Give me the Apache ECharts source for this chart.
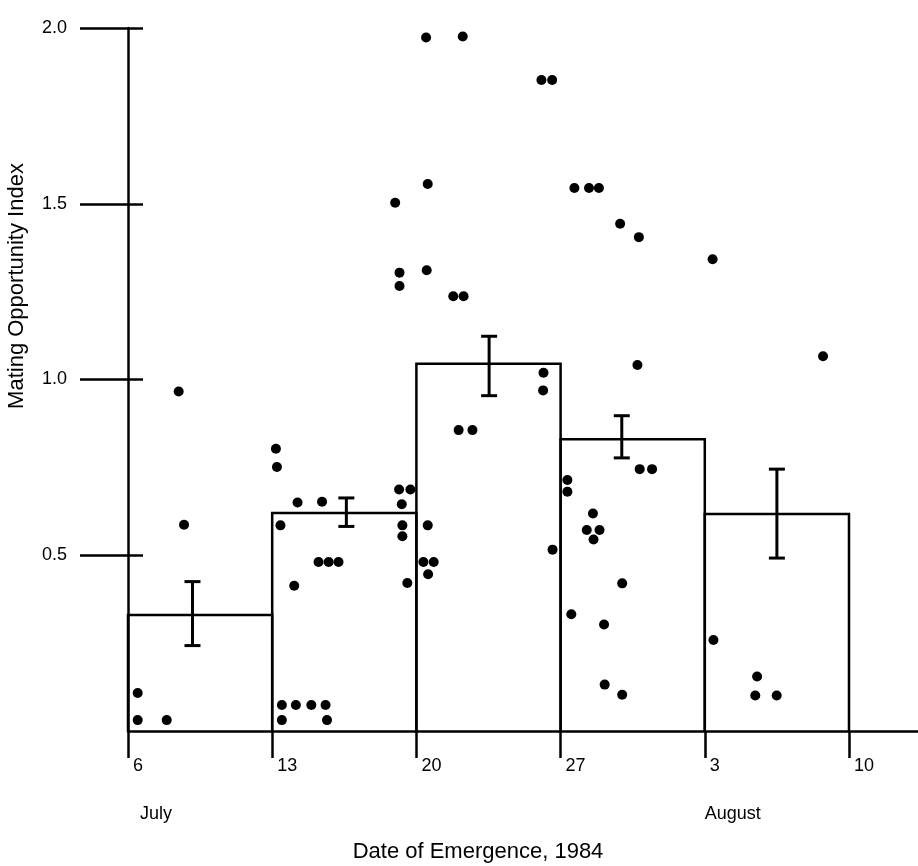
<!DOCTYPE html>
<html>
<head>
<meta charset="utf-8">
<script src="https://cdn.jsdelivr.net/npm/echarts@6/dist/echarts.min.js"></script>
<style>
html,body{margin:0;padding:0;background:#fff;}
#chart{width:918px;height:866px;}
</style>
</head>
<body>
<div id="chart"></div>
<script>
// x values are days after July 6, 1984
const xTickDays = [0, 7, 14, 21, 28, 35];
const xTickLabels = ['6', '13', '20', '27', '3', '10'];
const monthDays = [0, 28];
const monthLabels = ['July', 'August'];
const yTicks = [0.5, 1.0, 1.5, 2.0];

const binStart = [0, 7, 14, 21, 28];
const binEnd = [7, 14, 21, 28, 35];
const binMean = [0.330, 0.620, 1.045, 0.830, 0.617];
const errDay = [3.13, 10.60, 17.53, 23.97, 31.50];
const errLow = [0.243, 0.582, 0.954, 0.777, 0.492];
const errHigh = [0.425, 0.663, 1.123, 0.897, 0.745];

const pointDay = [
  0.47, 0.47, 1.88, 2.46, 2.72,
  7.18, 7.23, 7.40, 8.23, 9.42, 8.07, 9.25, 9.74, 10.22, 7.47, 8.15, 8.90, 9.59, 7.47, 9.66,
  13.16, 13.71, 13.29, 13.32, 13.32, 13.56, 12.97, 13.18, 13.18,
  14.47, 16.25, 14.55, 14.50, 15.79, 16.29, 20.07, 20.59, 20.17, 20.15, 16.05, 16.72,
  14.55, 14.34, 14.84, 14.57, 20.61,
  21.67, 22.38, 22.86, 23.89, 24.80, 24.73, 24.84, 25.44, 21.33, 21.33, 22.57, 22.27, 22.89,
  22.60, 23.99, 21.52, 23.11, 23.14, 23.99,
  28.38, 33.74, 28.42, 30.54, 30.45, 31.49
];
const pointIndex = [
  0.108, 0.031, 0.031, 0.966, 0.587,
  0.803, 0.751, 0.585, 0.650, 0.652, 0.413, 0.481, 0.481, 0.481, 0.074, 0.074, 0.074, 0.074, 0.031, 0.031,
  0.687, 0.687, 0.645, 0.585, 0.554, 0.421, 1.503, 1.304, 1.266,
  1.973, 1.976, 1.556, 1.311, 1.237, 1.237, 1.852, 1.852, 1.019, 0.969, 0.856, 0.856,
  0.585, 0.481, 0.481, 0.446, 0.516,
  1.545, 1.545, 1.545, 1.443, 1.405, 1.041, 0.745, 0.745, 0.714, 0.681, 0.619, 0.572, 0.572,
  0.545, 0.420, 0.332, 0.303, 0.132, 0.103,
  1.342, 1.066, 0.259, 0.155, 0.101, 0.101
];

const FONT = 'Liberation Sans, Arial, sans-serif';
const INK = '#000';

const barData = binStart.map((s, i) => [s, binEnd[i], binMean[i]]);
const errData = errDay.map((d, i) => [d, errLow[i], errHigh[i]]);
const scatterData = pointDay.map((d, i) => [d, pointIndex[i]]);

const chart = echarts.init(document.getElementById('chart'), null, {renderer: 'canvas'});
chart.setOption({
  backgroundColor: '#fff',
  animation: false,
  grid: {left: 128, right: 0, top: 28, bottom: 135, containLabel: false, outerBoundsMode: 'none'},
  xAxis: [{
    type: 'value', min: 0, max: 38.35,
    axisLine: {show: true, onZero: true, lineStyle: {color: INK, width: 2.5}},
    axisTick: {show: true, customValues: xTickDays, length: 27, lineStyle: {color: INK, width: 2.5}},
    axisLabel: {
      show: true, customValues: xTickDays, margin: 26, align: 'left', padding: [0, 0, 0, 5],
      fontSize: 18, fontFamily: FONT, color: INK,
      formatter: v => xTickLabels[xTickDays.indexOf(Math.round(v))] || ''
    },
    splitLine: {show: false}
  }, {
    type: 'value', min: 0, max: 38.35, position: 'bottom',
    axisLine: {show: false}, axisTick: {show: false}, splitLine: {show: false},
    axisLabel: {
      show: true, customValues: monthDays, margin: 74, align: 'center', padding: [0, 0, 0, 56],
      fontSize: 18, fontFamily: FONT, color: INK,
      formatter: v => monthLabels[monthDays.indexOf(Math.round(v))] || ''
    }
  }],
  yAxis: [{
    type: 'value', min: 0, max: 2, position: 'left',
    axisLine: {show: true, onZero: false, lineStyle: {color: INK, width: 2.5}},
    axisTick: {show: true, customValues: yTicks, length: 48, lineStyle: {color: INK, width: 2.5}},
    axisLabel: {
      show: true, customValues: yTicks, margin: 61, padding: [0, 0, 10, 0],
      fontSize: 18, fontFamily: FONT, color: INK,
      formatter: v => v.toFixed(1)
    },
    splitLine: {show: false}
  }, {
    type: 'value', min: 0, max: 2, position: 'left', offset: 0,
    axisLine: {show: false, onZero: false},
    axisTick: {show: true, inside: true, customValues: yTicks, length: 15, lineStyle: {color: INK, width: 2.5}},
    axisLabel: {show: false},
    splitLine: {show: false}
  }],
  graphic: [{
    type: 'text', x: 17, y: 286, rotation: Math.PI / 2,
    style: {text: 'Mating Opportunity Index', font: '22px ' + FONT, fill: INK,
            align: 'center', verticalAlign: 'middle', textAlign: 'center', textVerticalAlign: 'middle'}
  }, {
    type: 'text', x: 478, y: 852,
    style: {text: 'Date of Emergence, 1984', font: '22px ' + FONT, fill: INK,
            align: 'center', verticalAlign: 'middle', textAlign: 'center', textVerticalAlign: 'middle'}
  }],
  series: [{
    type: 'custom', name: 'mean', xAxisIndex: 0, yAxisIndex: 0, z: 2,
    data: barData,
    encode: {x: [0, 1], y: 2},
    renderItem: (params, api) => {
      const x0 = api.value(0), x1 = api.value(1), y = api.value(2);
      const pTop = api.coord([x0, y]);
      const pBot = api.coord([x1, 0]);
      return {
        type: 'polyline',
        shape: {points: [[pTop[0], pBot[1]], [pTop[0], pTop[1]], [pBot[0], pTop[1]], [pBot[0], pBot[1]]]},
        style: {stroke: INK, lineWidth: 2.5, fill: null}
      };
    }
  }, {
    type: 'custom', name: 'se', xAxisIndex: 0, yAxisIndex: 0, z: 3,
    data: errData,
    encode: {x: 0, y: [1, 2]},
    renderItem: (params, api) => {
      const d = api.value(0);
      const lo = api.coord([d, api.value(1)]);
      const hi = api.coord([d, api.value(2)]);
      const w = 8;
      const st = {stroke: INK, lineWidth: 3, fill: null};
      return {
        type: 'group',
        children: [
          {type: 'line', shape: {x1: lo[0], y1: lo[1], x2: hi[0], y2: hi[1]}, style: st},
          {type: 'line', shape: {x1: lo[0] - w, y1: lo[1], x2: lo[0] + w, y2: lo[1]}, style: st},
          {type: 'line', shape: {x1: hi[0] - w, y1: hi[1], x2: hi[0] + w, y2: hi[1]}, style: st}
        ]
      };
    }
  }, {
    type: 'scatter', name: 'individuals', xAxisIndex: 0, yAxisIndex: 0, z: 4,
    symbol: 'circle', symbolSize: 10,
    itemStyle: {color: INK, borderWidth: 0, opacity: 1},
    data: scatterData
  }]
});
</script>
</body>
</html>
